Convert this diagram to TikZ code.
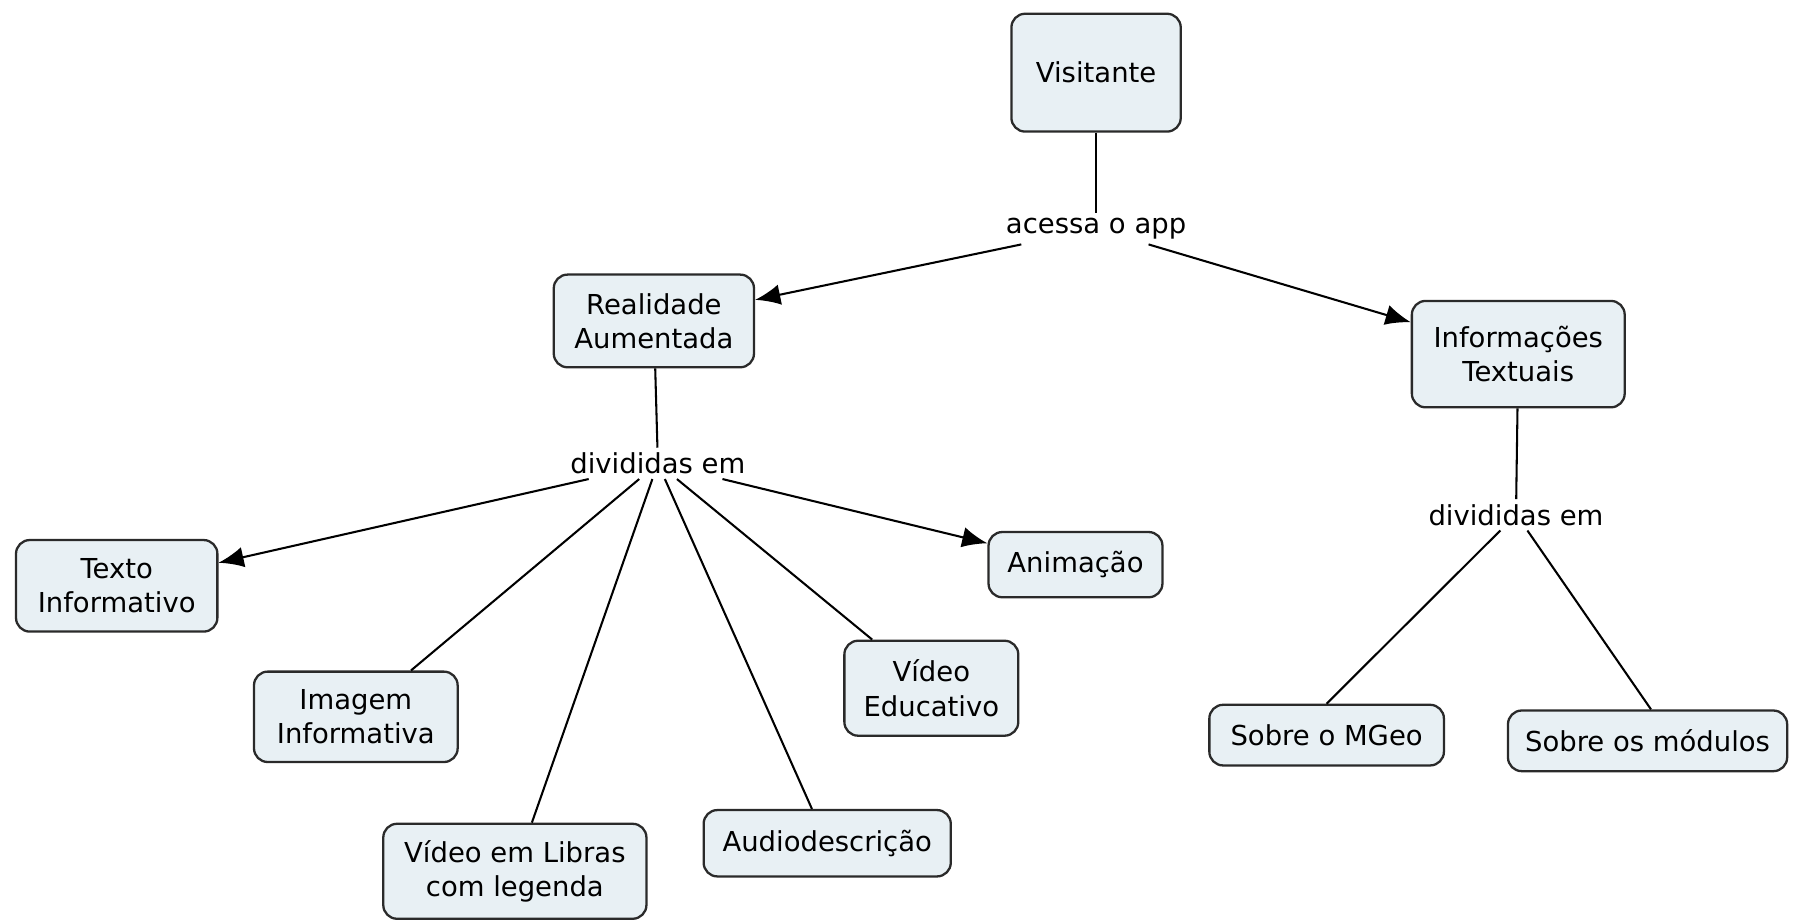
\documentclass[tikz,border=0pt]{standalone}
\usepackage{fontspec}
\setmainfont{DejaVu Sans}
\usetikzlibrary{arrows.meta}
\definecolor{vulling}{HTML}{E8F0F4}
\definecolor{rand}{HTML}{2A2A2A}
\begin{document}
\begin{tikzpicture}[x=0.5pt,y=-0.5pt,
  conceito/.style={draw=rand,fill=vulling,line width=1pt,rounded corners=6pt,align=center,font=\fontsize{12}{15}\selectfont,inner sep=2pt},
  ligacao/.style={font=\fontsize{12}{15}\selectfont,inner xsep=1pt,inner ysep=2pt},
  seta/.style={line width=0.9pt,-{Latex[length=11pt,width=9pt]}},
  linha/.style={line width=0.9pt}]
\useasboundingbox (0,0) rectangle (1568,805);
% conceitos
\node[conceito,minimum width=74pt,minimum height=51.5pt] (vis) at (958,63.5) {Visitante};
\node[conceito,minimum width=87.5pt,minimum height=40.5pt] (ra) at (571.5,280.5) {Realidade\\Aumentada};
\node[conceito,minimum width=93pt,minimum height=46.5pt] (it) at (1327,309.5) {Informações\\Textuais};
\node[conceito,minimum width=88pt,minimum height=40pt] (texto) at (102,512) {Texto\\Informativo};
\node[conceito,minimum width=89pt,minimum height=39.5pt] (imagem) at (311,626.5) {Imagem\\Informativa};
\node[conceito,minimum width=115pt,minimum height=41.5pt] (libras) at (450,761.5) {Vídeo em Libras\\com legenda};
\node[conceito,minimum width=108pt,minimum height=29pt] (audio) at (723,737) {Audiodescrição};
\node[conceito,minimum width=76pt,minimum height=41.5pt] (educ) at (814,601.5) {Vídeo\\Educativo};
\node[conceito,minimum width=76pt,minimum height=28.5pt] (anim) at (940,493.5) {Animação};
\node[conceito,minimum width=102.5pt,minimum height=26.5pt] (mgeo) at (1159.5,642.5) {Sobre o MGeo};
\node[conceito,minimum width=122pt,minimum height=26.5pt] (mod) at (1440,647.5) {Sobre os módulos};
% frases de ligacao
\node[ligacao] (acessa) at (958,200) {acessa o app};
\node[ligacao] (divA) at (575,405) {divididas em};
\node[ligacao] (divB) at (1325,450) {divididas em};
% ligacoes
\draw[linha] (vis) -- (acessa);
\draw[seta] (acessa) -- (ra);
\draw[seta] (acessa) -- (it);
\draw[linha] (ra) -- (divA);
\draw[seta] (divA) -- (texto);
\draw[linha] (divA) -- (imagem);
\draw[linha] (divA) -- (libras);
\draw[linha] (divA) -- (audio);
\draw[linha] (divA) -- (educ);
\draw[seta] (divA) -- (anim);
\draw[linha] (it) -- (divB);
\draw[linha] (divB) -- (mgeo.north);
\draw[linha] ([xshift=5pt]divB.south) -- ([xshift=1.5pt]mod.north);
\end{tikzpicture}
\end{document}
